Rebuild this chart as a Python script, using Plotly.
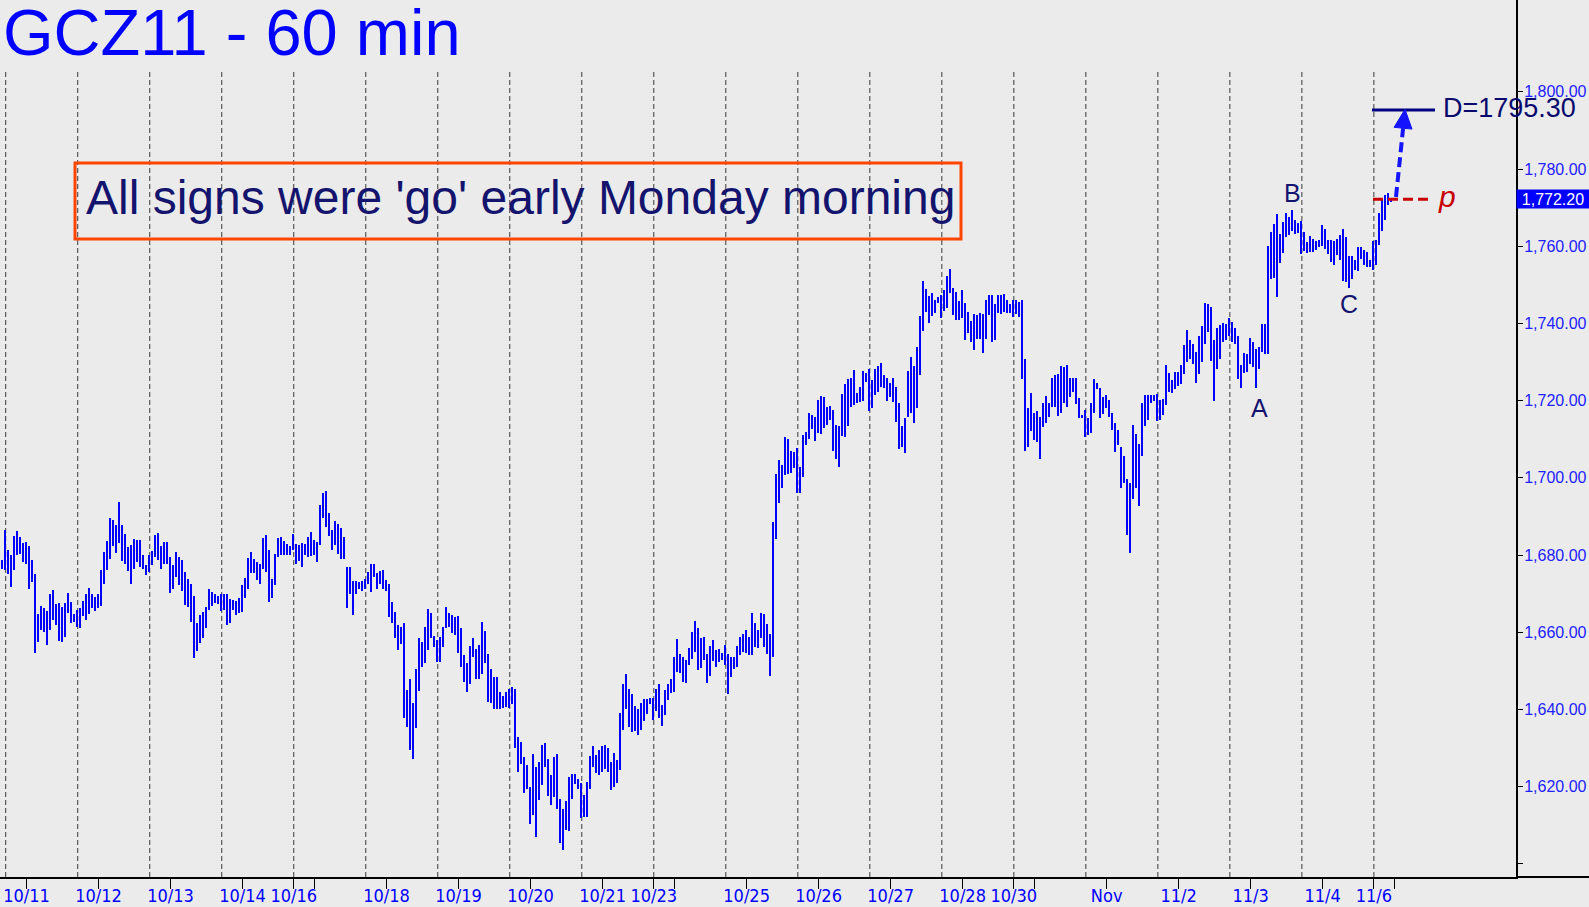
import plotly.graph_objects as go

# ---------------- data ----------------
highs = [
    1678.7, 1686.4, 1681.3, 1680.0, 1684.9, 1686.2, 1684.7, 1683.0, 1683.4, 1682.3,
    1678.7, 1675.0, 1664.7, 1666.8, 1666.2, 1665.5, 1669.9, 1670.9, 1667.3, 1667.5,
    1666.6, 1667.6, 1670.1, 1667.8, 1664.7, 1665.9, 1666.3, 1668.1, 1669.9, 1671.4,
    1670.0, 1669.2, 1669.9, 1676.1, 1680.8, 1683.6, 1689.6, 1689.0, 1687.9, 1693.7,
    1687.9, 1685.4, 1682.1, 1682.6, 1684.1, 1684.0, 1683.9, 1680.1, 1677.4, 1680.0,
    1681.0, 1685.2, 1685.8, 1682.3, 1683.3, 1683.4, 1679.4, 1677.4, 1680.8, 1679.4,
    1678.7, 1675.6, 1673.9, 1672.5, 1669.3, 1662.5, 1664.4, 1665.3, 1666.6, 1671.1,
    1670.5, 1669.8, 1669.3, 1670.0, 1670.0, 1670.0, 1668.6, 1668.3, 1668.1, 1668.8,
    1672.2, 1674.1, 1679.3, 1680.8, 1679.1, 1678.2, 1677.6, 1684.5, 1685.2, 1681.3,
    1673.8, 1680.4, 1684.5, 1684.7, 1683.7, 1682.8, 1682.3, 1685.4, 1682.8, 1682.6,
    1683.2, 1682.8, 1684.6, 1686.0, 1683.9, 1683.4, 1692.9, 1696.1, 1696.6, 1690.8,
    1686.6, 1688.8, 1688.0, 1687.1, 1684.6, 1677.0, 1676.8, 1673.2, 1673.2, 1673.1,
    1673.3, 1673.9, 1675.5, 1677.6, 1677.8, 1675.4, 1675.8, 1676.1, 1673.5, 1672.4,
    1667.9, 1665.3, 1661.8, 1661.4, 1662.4, 1645.0, 1648.0, 1641.7, 1650.4, 1658.4,
    1657.4, 1661.4, 1666.0, 1664.9, 1659.1, 1658.1, 1658.8, 1661.4, 1666.6, 1665.1,
    1664.4, 1664.0, 1664.3, 1661.2, 1654.1, 1652.1, 1656.5, 1658.4, 1655.6, 1656.6,
    1662.6, 1660.3, 1654.3, 1650.6, 1648.3, 1648.3, 1644.6, 1643.4, 1644.6, 1645.2,
    1645.9, 1645.4, 1632.9, 1631.6, 1627.7, 1625.6, 1620.0, 1628.4, 1625.1, 1626.4,
    1630.7, 1631.2, 1627.3, 1623.0, 1627.7, 1628.4, 1616.7, 1614.3, 1616.3, 1622.4,
    1623.2, 1623.2, 1621.9, 1621.0, 1617.8, 1621.2, 1627.9, 1630.5, 1628.2, 1629.5,
    1630.5, 1630.9, 1629.9, 1626.4, 1628.6, 1626.9, 1639.2, 1646.7, 1649.3, 1645.4,
    1643.9, 1640.8, 1640.0, 1641.7, 1642.8, 1642.6, 1643.1, 1643.1, 1645.2, 1646.7,
    1641.1, 1645.0, 1646.7, 1648.0, 1653.6, 1658.2, 1654.3, 1653.5, 1652.9, 1656.0,
    1660.0, 1662.9, 1661.1, 1658.4, 1658.8, 1654.5, 1656.4, 1658.0, 1655.4, 1655.6,
    1654.7, 1656.7, 1654.4, 1653.5, 1653.5, 1656.4, 1658.7, 1659.5, 1660.7, 1658.7,
    1664.9, 1662.5, 1660.6, 1664.9, 1664.7, 1662.1, 1659.5, 1688.6, 1701.0, 1704.6,
    1703.3, 1710.5, 1710.1, 1706.9, 1706.6, 1707.8, 1702.7, 1711.1, 1711.8, 1716.7,
    1716.3, 1715.7, 1720.2, 1721.2, 1720.9, 1718.4, 1718.6, 1717.6, 1713.7, 1713.4,
    1721.7, 1724.3, 1725.5, 1726.0, 1727.9, 1721.9, 1723.6, 1727.7, 1727.2, 1728.1,
    1725.3, 1728.1, 1729.0, 1729.8, 1726.6, 1726.0, 1724.6, 1726.0, 1723.6, 1719.5,
    1713.4, 1715.4, 1727.7, 1731.4, 1729.0, 1734.0, 1742.0, 1751.0, 1749.0, 1747.0,
    1747.9, 1746.2, 1746.9, 1747.3, 1748.8, 1752.3, 1754.0, 1749.3, 1748.2, 1745.9,
    1748.6, 1745.4, 1742.9, 1740.7, 1742.4, 1742.2, 1742.6, 1742.4, 1746.2, 1747.3,
    1747.3, 1745.0, 1747.3, 1747.3, 1747.6, 1746.2, 1745.0, 1746.0, 1746.2, 1745.6,
    1746.2, 1730.7, 1718.0, 1722.0, 1716.9, 1717.4, 1715.8, 1719.4, 1721.2, 1719.4,
    1726.0, 1726.6, 1726.9, 1729.0, 1728.8, 1729.2, 1726.0, 1726.0, 1725.8, 1720.8,
    1716.3, 1717.7, 1715.6, 1719.4, 1725.5, 1724.6, 1723.4, 1721.0, 1721.4, 1720.3,
    1716.9, 1714.3, 1712.4, 1708.1, 1705.6, 1699.8, 1698.7, 1713.7, 1711.3, 1708.9,
    1719.4, 1721.4, 1721.4, 1721.4, 1721.4, 1721.7, 1720.3, 1720.5, 1729.2, 1727.2,
    1725.3, 1727.5, 1727.5, 1729.2, 1734.4, 1738.3, 1735.7, 1734.8, 1732.6, 1736.7,
    1739.3, 1745.4, 1745.0, 1744.3, 1735.8, 1738.7, 1739.5, 1740.0, 1739.8, 1741.5,
    1740.4, 1738.7, 1736.8, 1729.2, 1732.4, 1732.2, 1736.3, 1735.2, 1733.5, 1733.9,
    1739.8, 1739.8, 1760.0, 1763.7, 1765.9, 1768.3, 1763.3, 1766.3, 1768.6, 1767.6,
    1769.5, 1766.9, 1766.1, 1766.6, 1763.7, 1761.1, 1762.6, 1762.0, 1761.4, 1761.6,
    1765.5, 1764.6, 1761.6, 1761.6, 1761.4, 1762.0, 1762.9, 1764.6, 1762.4, 1757.4,
    1757.4, 1756.4, 1759.7, 1759.8, 1759.0, 1758.5, 1756.4, 1761.4, 1761.6, 1768.5,
    1772.1, 1773.2, 1773.8, 1772.2,
]

lows = [
    1676.5, 1676.1, 1675.2, 1671.8, 1676.1, 1680.0, 1680.4, 1678.2, 1677.8, 1671.1,
    1673.1, 1654.7, 1657.5, 1660.7, 1660.1, 1656.7, 1660.7, 1663.3, 1661.8, 1657.8,
    1657.5, 1658.8, 1664.9, 1662.4, 1662.7, 1661.4, 1661.1, 1664.2, 1663.1, 1664.7,
    1666.4, 1665.5, 1666.2, 1666.8, 1672.6, 1676.1, 1678.9, 1682.4, 1680.6, 1683.0,
    1678.5, 1677.8, 1675.9, 1672.5, 1676.5, 1678.2, 1676.9, 1676.5, 1674.8, 1675.7,
    1677.4, 1679.5, 1678.8, 1676.3, 1677.6, 1677.8, 1670.2, 1671.3, 1674.4, 1672.2,
    1670.7, 1667.0, 1666.6, 1662.7, 1653.4, 1655.2, 1657.3, 1658.4, 1661.1, 1665.7,
    1666.8, 1667.6, 1667.4, 1665.5, 1665.9, 1661.8, 1662.4, 1665.7, 1664.6, 1664.9,
    1665.3, 1668.8, 1671.3, 1675.4, 1675.4, 1673.5, 1672.6, 1676.5, 1675.6, 1667.9,
    1668.9, 1672.2, 1679.4, 1680.0, 1680.0, 1680.0, 1680.0, 1681.3, 1677.6, 1678.5,
    1677.0, 1680.0, 1679.4, 1679.7, 1680.0, 1678.3, 1682.6, 1689.7, 1687.3, 1685.0,
    1681.4, 1682.6, 1680.4, 1678.9, 1679.1, 1666.4, 1669.9, 1664.6, 1669.9, 1671.3,
    1670.7, 1671.3, 1672.4, 1670.5, 1674.2, 1671.1, 1672.6, 1671.1, 1670.7, 1664.0,
    1662.3, 1658.6, 1655.5, 1656.9, 1637.9, 1635.5, 1629.6, 1627.3, 1635.3, 1644.8,
    1650.9, 1652.1, 1655.4, 1658.4, 1656.1, 1652.3, 1652.3, 1656.1, 1661.0, 1661.4,
    1659.7, 1659.3, 1654.7, 1650.9, 1647.2, 1644.4, 1646.6, 1653.6, 1648.0, 1647.8,
    1649.1, 1652.1, 1642.0, 1641.7, 1640.2, 1640.2, 1640.2, 1640.5, 1640.7, 1640.5,
    1641.4, 1630.1, 1623.8, 1626.0, 1618.4, 1619.3, 1610.3, 1612.6, 1607.0, 1616.5,
    1620.4, 1625.1, 1617.6, 1615.2, 1617.2, 1614.2, 1605.4, 1603.7, 1608.9, 1608.6,
    1616.7, 1620.6, 1619.5, 1611.9, 1612.2, 1612.2, 1619.3, 1625.1, 1623.6, 1623.0,
    1623.8, 1624.7, 1623.8, 1619.1, 1620.0, 1621.0, 1624.3, 1634.8, 1640.2, 1635.5,
    1634.2, 1634.5, 1633.3, 1634.8, 1637.0, 1638.8, 1641.4, 1637.2, 1639.6, 1637.7,
    1635.7, 1638.5, 1642.4, 1644.3, 1644.6, 1649.7, 1649.5, 1647.1, 1646.9, 1651.6,
    1653.2, 1654.9, 1650.2, 1650.8, 1652.7, 1646.9, 1648.7, 1652.6, 1651.1, 1652.4,
    1652.8, 1651.5, 1643.9, 1648.3, 1650.6, 1650.9, 1654.1, 1655.0, 1654.7, 1654.1,
    1654.1, 1656.1, 1655.8, 1658.4, 1656.3, 1654.5, 1648.7, 1653.7, 1684.1, 1693.6,
    1697.5, 1700.7, 1701.0, 1701.2, 1702.5, 1696.0, 1696.0, 1700.3, 1708.5, 1710.0,
    1712.6, 1709.6, 1711.7, 1711.3, 1712.8, 1713.7, 1715.0, 1707.0, 1705.0, 1702.9,
    1710.8, 1710.5, 1713.4, 1718.3, 1718.9, 1719.3, 1719.7, 1720.0, 1724.9, 1717.4,
    1718.0, 1721.4, 1722.3, 1723.6, 1723.4, 1720.0, 1721.0, 1719.7, 1714.5, 1707.4,
    1707.9, 1706.5, 1715.8, 1716.7, 1714.1, 1718.0, 1726.6, 1738.0, 1743.0, 1740.0,
    1742.0, 1742.8, 1745.2, 1741.3, 1743.3, 1743.9, 1747.8, 1742.2, 1741.0, 1741.0,
    1741.3, 1735.7, 1737.6, 1735.3, 1733.1, 1735.9, 1736.1, 1732.4, 1736.1, 1742.2,
    1735.3, 1735.7, 1742.6, 1742.4, 1743.0, 1742.8, 1742.8, 1741.7, 1742.4, 1741.6,
    1725.5, 1707.0, 1708.1, 1712.2, 1709.8, 1709.3, 1705.0, 1713.1, 1714.1, 1715.8,
    1718.4, 1718.4, 1716.1, 1716.7, 1719.4, 1718.4, 1721.0, 1722.3, 1719.1, 1715.4,
    1715.4, 1710.5, 1711.1, 1711.7, 1716.7, 1722.9, 1715.4, 1716.5, 1718.2, 1715.8,
    1712.5, 1706.8, 1708.5, 1697.3, 1698.7, 1685.2, 1680.6, 1694.4, 1697.3, 1692.7,
    1705.6, 1713.4, 1715.0, 1719.4, 1720.0, 1714.8, 1715.0, 1716.2, 1718.8, 1722.3,
    1722.0, 1722.9, 1723.7, 1724.3, 1726.9, 1730.0, 1730.9, 1729.6, 1724.6, 1727.0,
    1730.0, 1734.6, 1737.8, 1730.3, 1719.9, 1728.1, 1730.9, 1735.2, 1735.7, 1736.7,
    1735.2, 1734.8, 1725.7, 1723.4, 1727.2, 1727.5, 1729.4, 1728.8, 1723.4, 1728.3,
    1732.6, 1732.0, 1732.0, 1751.6, 1751.9, 1746.9, 1755.7, 1758.3, 1762.4, 1762.9,
    1764.0, 1763.3, 1763.5, 1757.9, 1758.8, 1758.3, 1758.5, 1758.5, 1759.0, 1759.7,
    1760.0, 1759.4, 1758.1, 1755.9, 1755.1, 1757.7, 1756.4, 1751.0, 1750.8, 1749.3,
    1751.6, 1753.8, 1753.6, 1756.6, 1755.1, 1754.7, 1754.7, 1753.8, 1755.1, 1760.3,
    1764.0, 1766.9, 1770.6, 1771.4,
]

# session (trading day) tick labels, one per session; "" = label hidden
session_tick_labels = ["10/11", "10/12", "10/13", "10/14", "", "10/18", "10/19",
                       "10/20", "10/21", "", "10/25", "10/26", "10/27", "10/28",
                       "", "Nov", "11/2", "11/3", "11/4", ""]
# Sunday-evening session openings (label sits on the session divider)
sunday_labels = ["10/16", "10/23", "10/30", "11/6"]
sunday_session_index = [4, 9, 14, 19]

y_tick_values = [1600, 1620, 1640, 1660, 1680, 1700, 1720, 1740, 1760, 1780, 1800]
last_price = 1772.20
target_D = 1795.30
pivot_p = 1772.20
title_text = "GCZ11 - 60 min"
note_text = "All signs were 'go' early Monday morning"
wave_labels = ["A", "B", "C"]

# ---------------- layout constants ----------------
FIG_W, FIG_H = 1589, 907
ML, MR, MT, MB = 0, 73, 0, 30
PW, PH = FIG_W - ML - MR, FIG_H - MT - MB
X0, X1 = -0.57, 504.7
Y0, Y1 = 1596.6, 1823.8
BARS_PER_SESSION = 24
FIRST_DIVIDER = 1.33
TICK_OFFSET = 8.27

BLUE = "#0000FF"
NAVY = "#14146E"
FONT = "Liberation Sans, Arial, sans-serif"
NARROW = "Liberation Sans Narrow, Arial Narrow, DejaVu Sans Condensed, sans-serif"


def kx(xpx):  # pixel x (in plot area) -> data x
    return X0 + xpx / PW * (X1 - X0)


def vy(ypx):  # pixel y (in plot area) -> data y
    return Y1 - ypx / PH * (Y1 - Y0)


def pxp(xpx):
    return xpx / PW


def pyp(ypx):
    return 1 - ypx / PH


n = len(highs)
xs = list(range(n))

fig = go.Figure()
fig.add_trace(go.Bar(
    x=xs, y=[h - l for h, l in zip(highs, lows)], base=lows,
    width=0.8, marker=dict(color=BLUE, line=dict(width=0)),
    hoverinfo="skip", showlegend=False,
))

# session dividers
shapes = []
n_sessions = len(session_tick_labels)
for d in range(n_sessions):
    xd = FIRST_DIVIDER + BARS_PER_SESSION * d
    shapes.append(dict(type="line", xref="x", yref="paper", x0=xd, x1=xd,
                       y0=0, y1=pyp(69), layer="below",
                       line=dict(color="#3C3C3C", width=1, dash="5px,3px")))

# ticks
tickvals, ticktext = [], []
for d, lab in enumerate(session_tick_labels):
    tickvals.append(TICK_OFFSET + BARS_PER_SESSION * d)
    ticktext.append(lab)
for lab, d in zip(sunday_labels, sunday_session_index):
    tickvals.append(FIRST_DIVIDER + BARS_PER_SESSION * d)
    ticktext.append(lab)

y_text = [("" if v == 1600 else f"{v:,.2f}") for v in y_tick_values]

# extend x-axis line to right edge
shapes.append(dict(type="line", xref="paper", yref="paper", x0=1, x1=FIG_W / PW,
                   y0=0, y1=0, line=dict(color="black", width=2)))

# note box
shapes.append(dict(type="rect", xref="paper", yref="paper",
                   x0=pxp(75), x1=pxp(961), y0=pyp(239), y1=pyp(163),
                   line=dict(color="#FF4500", width=3), fillcolor="rgba(0,0,0,0)"))

# D target line
shapes.append(dict(type="line", xref="x", yref="y", x0=kx(1372), x1=kx(1435),
                   y0=target_D, y1=target_D, line=dict(color="#000080", width=3)))
# pivot p dashed line
shapes.append(dict(type="line", xref="x", yref="y", x0=kx(1373), x1=kx(1433),
                   y0=pivot_p, y1=pivot_p,
                   line=dict(color="#C80000", width=3, dash="10px,5px")))
# blue dashed arrow shaft
shapes.append(dict(type="line", xref="x", yref="y", x0=kx(1396), y0=vy(197),
                   x1=kx(1403.1), y1=vy(128.2),
                   line=dict(color="#1414FF", width=4, dash="10px,5px")))
# arrow head
shapes.append(dict(type="path", xref="x", yref="y",
                   path=(f"M {kx(1405)},{vy(109.3)} L {kx(1394.1)},{vy(127.3)} "
                         f"L {kx(1412.0)},{vy(129.1)} Z"),
                   fillcolor="#1414FF", line=dict(color="#1414FF", width=1)))

annotations = [
    dict(text=title_text, xref="paper", yref="paper", x=pxp(1), y=pyp(33),
         xanchor="left", yanchor="middle", showarrow=False,
         font=dict(family=FONT, size=65, color=BLUE)),
    dict(text=note_text, xref="paper", yref="paper", x=pxp(520), y=pyp(197),
         xanchor="center", yanchor="middle", showarrow=False,
         font=dict(family=FONT, size=48, color=NAVY)),
    dict(text=f"D={target_D:.2f}", xref="x", yref="y", x=kx(1441), y=vy(108),
         xanchor="left", yanchor="middle", showarrow=False,
         font=dict(family=FONT, size=27, color="#0A0A6E")),
    dict(text="<i>p</i>", xref="x", yref="y", x=kx(1436), y=vy(196),
         xanchor="left", yanchor="middle", showarrow=False,
         font=dict(family=FONT, size=30, color="#C80000")),
    dict(text=f"{last_price:,.2f}", xref="paper", yref="y", x=1, y=last_price,
         xanchor="left", yanchor="middle", showarrow=False, xshift=0,
         bgcolor="#0000FF", width=70, height=16, borderpad=1,
         font=dict(family=FONT, size=16, color="white")),
]
wave_pos = [(1259, 408), (1292, 193), (1349, 304)]
for lab, (wx, wy) in zip(wave_labels, wave_pos):
    annotations.append(dict(text=lab, xref="x", yref="y", x=kx(wx), y=vy(wy),
                            xanchor="center", yanchor="middle", showarrow=False,
                            font=dict(family=FONT, size=25, color=NAVY)))

fig.update_layout(
    width=FIG_W, height=FIG_H,
    margin=dict(l=ML, r=MR, t=MT, b=MB, autoexpand=False),
    paper_bgcolor="#EBEBEB", plot_bgcolor="#EBEBEB",
    showlegend=False, bargap=0,
    shapes=shapes, annotations=annotations,
    xaxis=dict(range=[X0, X1], showgrid=False, zeroline=False, showline=True,
               linecolor="black", linewidth=2, ticks="outside", ticklen=10,
               tickcolor="black", tickwidth=1, tickvals=tickvals, ticktext=ticktext,
               ticklabelstandoff=-9,
               tickfont=dict(family=NARROW, size=18, color=BLUE), fixedrange=True),
    yaxis=dict(range=[Y0, Y1], side="right", showgrid=False, zeroline=False,
               showline=True, linecolor="black", linewidth=2, ticks="outside",
               ticklen=5, tickcolor="black", tickwidth=1, tickvals=y_tick_values,
               ticktext=y_text, ticklabelstandoff=-2,
               tickfont=dict(family=FONT, size=16, color="#2222FF"),
               fixedrange=True),
)

fig.write_html("out.html", config={"displayModeBar": False},
               post_script="document.body.style.margin='0px';"
                           "document.body.style.background='#EBEBEB';")
